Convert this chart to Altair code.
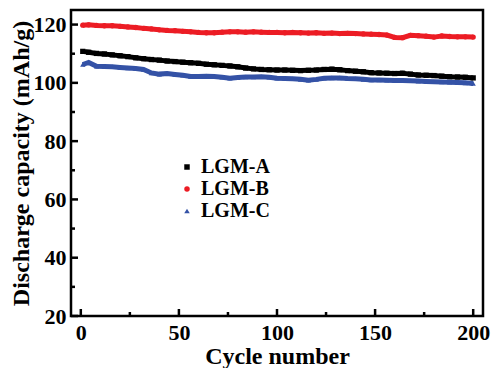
import altair as alt
import pandas as pd

cycles = [1] + list(range(4, 201, 4))

lgm_a = [110.8, 110.5, 110.1, 109.9, 109.6, 109.3, 109.0, 108.6, 108.3, 108.0,
         107.8, 107.5, 107.3, 107.1, 106.9, 106.7, 106.4, 106.2, 106.0, 105.8,
         105.5, 105.1, 104.8, 104.6, 104.5, 104.4, 104.4, 104.3, 104.2, 104.3,
         104.4, 104.6, 104.7, 104.5, 104.2, 104.0, 103.8, 103.5, 103.4, 103.3,
         103.2, 103.3, 103.0, 102.7, 102.6, 102.5, 102.3, 102.1, 102.0, 101.9, 101.7]

lgm_b = [119.8, 119.9, 119.7, 119.6, 119.6, 119.4, 119.2, 119.0, 118.7, 118.5,
         118.2, 118.0, 117.9, 117.7, 117.5, 117.3, 117.2, 117.2, 117.4, 117.5,
         117.5, 117.4, 117.5, 117.4, 117.3, 117.3, 117.2, 117.3, 117.2, 117.1,
         117.2, 117.0, 117.1, 116.9, 117.0, 116.9, 116.8, 116.7, 116.6, 116.4,
         115.6, 115.5, 116.3, 116.2, 116.0, 115.7, 116.1, 115.9, 115.8, 115.8, 115.7]

lgm_c = [106.3, 107.0, 105.7, 105.6, 105.5, 105.3, 105.1, 104.9, 104.6, 103.4,
         103.0, 103.2, 102.9, 102.6, 102.2, 102.2, 102.3, 102.2, 101.9, 101.6,
         101.8, 102.0, 102.0, 102.1, 101.9, 101.6, 101.5, 101.4, 101.2, 100.9,
         101.2, 101.6, 101.7, 101.7, 101.5, 101.4, 101.2, 101.0, 101.0, 100.9,
         100.8, 100.8, 100.7, 100.6, 100.5, 100.4, 100.3, 100.2, 100.1, 100.0, 99.8]

series_names = ["LGM-A", "LGM-B", "LGM-C"]
series_colors = ["#000000", "#ec1c24", "#3452a6"]
series_shapes = ["square", "circle", "triangle-up"]

x_major = [0, 50, 100, 150, 200]
x_minor = [25, 75, 125, 175]
y_major = [20, 40, 60, 80, 100, 120]
y_minor = [30, 50, 70, 90, 110]

rows = []
for name, vals in zip(series_names, [lgm_a, lgm_b, lgm_c]):
    for c, v in zip(cycles, vals):
        rows.append({"cycle": c, "capacity": v, "series": name})
df = pd.DataFrame(rows)

W, H = 412, 306
FONT = "Liberation Serif"

xs = alt.Scale(domain=[-5, 205], nice=False, zero=False)
ys = alt.Scale(domain=[20, 125], nice=False, zero=False)
cs = alt.Scale(domain=series_names, range=series_colors)
ss = alt.Scale(domain=series_names, range=series_shapes)

base = alt.Chart(df)

x_axis = alt.Axis(
    title="Cycle number", values=x_major, ticks=False, domain=False, grid=False,
    labelFont=FONT, labelFontWeight="bold", labelFontSize=22, labelColor="black",
    labelPadding=6, titleFont=FONT, titleFontWeight="bold", titleFontSize=24,
    titleColor="black", titleY=47, titleBaseline="alphabetic")
y_axis = alt.Axis(
    title="Discharge capacity (mAh/g)", values=y_major, ticks=False, domain=False,
    grid=False, labelFont=FONT, labelFontWeight="bold", labelFontSize=22,
    labelColor="black", labelPadding=5, titleFont=FONT, titleFontWeight="bold",
    titleFontSize=24, titleColor="black", titleX=-50, titleBaseline="middle")

leg = alt.Legend(
    title=None, orient="none", legendX=106, legendY=147,
    labelFont=FONT, labelFontWeight="bold", labelFontSize=20, labelColor="black",
    symbolSize=30, rowPadding=2, labelOffset=4, symbolStrokeWidth=0)

points = base.mark_point(filled=True, size=28, opacity=1).encode(
    x=alt.X("cycle:Q", scale=xs, axis=x_axis),
    y=alt.Y("capacity:Q", scale=ys, axis=y_axis),
    color=alt.Color("series:N", scale=cs, legend=leg),
    shape=alt.Shape("series:N", scale=ss, legend=leg),
)

lines = base.mark_line(strokeWidth=5).encode(
    x=alt.X("cycle:Q"),
    y=alt.Y("capacity:Q"),
    stroke=alt.Stroke("series:N", scale=cs, legend=None),
    detail="series:N",
)

xmaj = pd.DataFrame({"v": x_major})
xmin = pd.DataFrame({"v": x_minor})
ymaj = pd.DataFrame({"v": y_major})
ymin = pd.DataFrame({"v": y_minor})

xt_major = alt.Chart(xmaj).mark_rule(color="black", strokeWidth=2.5).encode(
    x="v:Q", y=alt.value(H), y2=alt.value(H - 7))
xt_minor = alt.Chart(xmin).mark_rule(color="black", strokeWidth=2.5).encode(
    x="v:Q", y=alt.value(H), y2=alt.value(H - 4))
yt_major = alt.Chart(ymaj).mark_rule(color="black", strokeWidth=2.5).encode(
    y="v:Q", x=alt.value(0), x2=alt.value(7))
yt_minor = alt.Chart(ymin).mark_rule(color="black", strokeWidth=2.5).encode(
    y="v:Q", x=alt.value(0), x2=alt.value(4))

chart = alt.layer(points, lines, xt_major, xt_minor, yt_major, yt_minor).properties(
    width=W, height=H,
    autosize=alt.AutoSizeParams(type="none"),
    padding={"left": 63, "top": 2, "right": 9, "bottom": 52},
).configure_view(stroke="black", strokeWidth=2.5)

chart.save("out.html", embed_options={"renderer": "svg", "actions": False})
